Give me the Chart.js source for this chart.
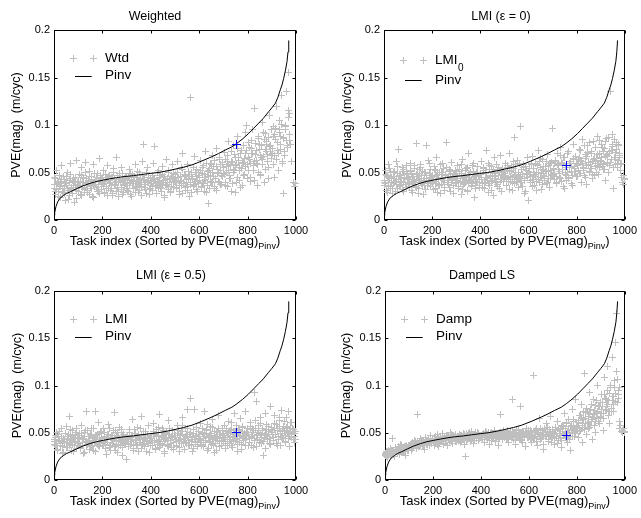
<!DOCTYPE html>
<html>
<head>
<meta charset="utf-8">
<script src="https://cdn.jsdelivr.net/npm/chart.js@4.4.1/dist/chart.umd.min.js"></script>
<style>
  html, body { margin: 0; padding: 0; background: #fff; }
  #wrap { position: relative; width: 641px; height: 518px; overflow: hidden; }
  canvas { position: absolute; }
</style>
</head>
<body>
<div id="wrap">
  <canvas id="c1" width="320" height="259" style="left:0;top:0"></canvas>
  <canvas id="c2" width="321" height="259" style="left:320px;top:0"></canvas>
  <canvas id="c3" width="320" height="259" style="left:0;top:259px"></canvas>
  <canvas id="c4" width="321" height="259" style="left:320px;top:259px"></canvas>
</div>
<script>
// task index (sorted by Pinv PVE): three interleaved samples of the tasks
const taskIdxA = [
  0,5,10,15,20,25,30,35,40,45,50,55,60,65,70,75,80,85,90,95,
  100,105,110,115,120,125,130,135,140,145,150,155,160,165,170,175,180,185,190,195,
  200,205,210,215,220,225,230,235,240,245,250,255,260,265,270,275,280,285,290,295,
  300,305,310,315,320,325,330,335,340,345,350,355,360,365,370,375,380,385,390,395,
  400,405,410,415,420,425,430,435,440,445,450,455,460,465,470,475,480,485,490,495,
  500,505,510,515,520,525,530,535,540,545,550,555,560,565,570,575,580,585,590,595,
  600,605,610,615,620,625,630,635,640,645,650,655,660,665,670,675,680,685,690,695,
  700,705,710,715,720,725,730,735,740,745,750,755,760,765,770,775,780,785,790,795,
  800,805,810,815,820,825,830,835,840,845,850,855,860,865,870,875,880,885,890,895,
  900,905,910,915,920,925,930,935,940,945,950,955,960,965,970,975,980,985,990,995
];
const taskIdxB = [
  2,7,12,17,22,27,32,37,42,47,52,57,62,67,72,77,82,87,92,97,
  102,107,112,117,122,127,132,137,142,147,152,157,162,167,172,177,182,187,192,197,
  202,207,212,217,222,227,232,237,242,247,252,257,262,267,272,277,282,287,292,297,
  302,307,312,317,322,327,332,337,342,347,352,357,362,367,372,377,382,387,392,397,
  402,407,412,417,422,427,432,437,442,447,452,457,462,467,472,477,482,487,492,497,
  502,507,512,517,522,527,532,537,542,547,552,557,562,567,572,577,582,587,592,597,
  602,607,612,617,622,627,632,637,642,647,652,657,662,667,672,677,682,687,692,697,
  702,707,712,717,722,727,732,737,742,747,752,757,762,767,772,777,782,787,792,797,
  802,807,812,817,822,827,832,837,842,847,852,857,862,867,872,877,882,887,892,897,
  902,907,912,917,922,927,932,937,942,947,952,957,962,967,972,977,982,987,992,997
];
const taskIdxC = [
  3,8,13,18,23,28,33,38,43,48,53,58,63,68,73,78,83,88,93,98,
  103,108,113,118,123,128,133,138,143,148,153,158,163,168,173,178,183,188,193,198,
  203,208,213,218,223,228,233,238,243,248,253,258,263,268,273,278,283,288,293,298,
  303,308,313,318,323,328,333,338,343,348,353,358,363,368,373,378,383,388,393,398,
  403,408,413,418,423,428,433,438,443,448,453,458,463,468,473,478,483,488,493,498,
  503,508,513,518,523,528,533,538,543,548,553,558,563,568,573,578,583,588,593,598,
  603,608,613,618,623,628,633,638,643,648,653,658,663,668,673,678,683,688,693,698,
  703,708,713,718,723,728,733,738,743,748,753,758,763,768,773,778,783,788,793,798,
  803,808,813,818,823,828,833,838,843,848,853,858,863,868,873,878,883,888,893,898,
  903,908,913,918,923,928,933,938,943,948,953,958,963,968,973,978,983,988,993,998
];

// PVE(mag) of the Weighted solution (m/cyc)
const wtdA = [
  .045,.030,.052,.038,.025,.041,.057,.033,.046,.028,.036,.050,.022,.042,.060,.031,.044,.018,.039,.063,
  .035,.048,.027,.055,.040,.032,.061,.044,.029,.051,.037,.046,.025,.058,.042,.034,.049,.030,.065,.043,
  .038,.052,.028,.045,.057,.033,.047,.040,.026,.054,.043,.036,.066,.030,.049,.041,.055,.027,.044,.038,
  .046,.031,.053,.039,.025,.048,.042,.058,.034,.045,.029,.050,.037,.062,.080,.043,.032,.055,.040,.027,
  .044,.035,.060,.077,.041,.028,.052,.038,.047,.033,.056,.024,.043,.064,.037,.050,.030,.046,.058,.039,
  .048,.034,.062,.042,.027,.055,.070,.038,.046,.031,.058,.044,.025,.129,.050,.036,.067,.041,.053,.030,
  .047,.063,.035,.055,.042,.072,.029,.051,.017,.060,.039,.068,.046,.033,.075,.053,.041,.064,.037,.058,
  .049,.071,.036,.062,.083,.044,.057,.030,.078,.052,.066,.040,.088,.055,.034,.073,.061,.047,.092,.100,
  .058,.082,.041,.070,.095,.052,.117,.063,.036,.086,.074,.048,.103,.067,.039,.091,.080,.055,.110,.072,
  .065,.098,.045,.085,.120,.073,.105,.088,.131,.060,.028,.095,.135,.078,.155,.112,.062,null,.040,.035
];
const wtdB = [
  .037,.044,.032,.041,.047,.035,.040,.029,.043,.038,.046,.033,.039,.048,.034,.042,.036,.045,.031,.040,
  .041,.036,.047,.039,.044,.033,.050,.038,.042,.046,.035,.043,.040,.049,.037,.045,.032,.041,.047,.039,
  .043,.038,.048,.035,.042,.046,.040,.033,.045,.050,.037,.041,.047,.039,.044,.034,.049,.042,.036,.046,
  .040,.045,.036,.049,.043,.038,.046,.034,.041,.051,.039,.044,.035,.047,.042,.037,.050,.040,.045,.033,
  .042,.047,.038,.044,.036,.050,.041,.045,.034,.048,.040,.046,.037,.043,.052,.039,.044,.035,.049,.041,
  .044,.039,.050,.036,.046,.041,.053,.038,.047,.043,.035,.051,.040,.048,.044,.055,.037,.046,.042,.050,
  .045,.052,.040,.057,.048,.043,.060,.046,.054,.041,.058,.050,.063,.044,.056,.049,.066,.052,.047,.061,
  .055,.064,.050,.068,.058,.047,.072,.061,.053,.069,.057,.075,.063,.052,.070,.060,.078,.065,.056,.073,
  .066,.076,.060,.084,.070,.062,.081,.073,.058,.088,.068,.078,.064,.092,.074,.083,.069,.087,.077,.095,
  .075,.088,.068,.096,.082,.070,.092,.079,.101,.086,.072,.098,.084,.108,.090,.080,null,null,null,.038
];
const wtdC = [
  .033,.027,.040,.030,.036,.024,.043,.029,.035,.021,.038,.031,.026,.044,.032,.028,.041,.034,.023,.037,
  .030,.039,.026,.034,.045,.029,.036,.031,.041,.027,.033,.038,.024,.035,.042,.030,.037,.028,.044,.032,
  .035,.029,.041,.033,.026,.038,.031,.045,.028,.036,.040,.030,.034,.025,.039,.032,.043,.029,.037,.033,
  .036,.030,.042,.027,.038,.033,.046,.029,.035,.040,.031,.037,.026,.043,.034,.039,.028,.041,.032,.036,
  .038,.031,.043,.035,.028,.040,.033,.047,.030,.037,.042,.026,.036,.044,.032,.039,.029,.045,.034,.041,
  .039,.033,.045,.030,.042,.036,.028,.048,.034,.040,.031,.046,.037,.029,.043,.035,.050,.032,.041,.038,
  .042,.034,.049,.038,.030,.045,.036,.052,.033,.047,.040,.056,.035,.044,.031,.050,.039,.058,.037,.046,
  .048,.040,.056,.035,.052,.044,.062,.038,.050,.029,.058,.045,.066,.042,.054,.036,.061,.048,.070,.044,
  .052,.064,.045,.075,.057,.042,.069,.060,.050,.080,.047,.066,.058,.085,.053,.072,.062,.044,.078,.068,
  .070,.058,.090,.064,.082,.052,.095,.074,.062,.087,.068,.100,.076,.115,.084,null,null,null,null,null
];

// PVE(mag) of LMI with epsilon = 0
const lmi0A = [
  .040,.052,.031,.046,.058,.036,.044,.028,.050,.039,.062,.033,.074,.047,.041,.055,.030,.048,.037,.057,
  .043,.035,.060,.049,.029,.054,.040,.081,.046,.033,.058,.038,.051,.027,.044,.078,.036,.063,.042,.053,
  .047,.032,.056,.041,.066,.037,.050,.028,.045,.059,.034,.048,.082,.039,.053,.030,.061,.044,.036,.052,
  .040,.057,.033,.049,.027,.064,.045,.038,.054,.031,.070,.043,.050,.035,.060,.024,.047,.041,.056,.036,
  .048,.062,.034,.052,.039,.073,.044,.029,.057,.041,.050,.026,.066,.046,.037,.055,.033,.068,.043,.051,
  .045,.060,.036,.052,.070,.041,.056,.031,.087,.048,.039,.063,.044,.098,.053,.035,.058,.028,.049,.066,
  .021,.054,.042,.067,.047,.036,.059,.050,.073,.040,.055,.032,.064,.046,.052,.038,.069,.057,.044,.061,
  .096,.048,.060,.039,.070,.053,.045,.076,.058,.035,.066,.050,.042,.072,.055,.062,.038,.080,.051,.067,
  .059,.046,.074,.063,.040,.085,.054,.069,.037,.078,.061,.050,.072,.044,.083,.065,.056,.088,.048,.070,
  .062,.080,.053,.075,.042,.086,.068,.057,.135,.073,.090,.033,.064,.082,.055,.078,.070,.045,.040,.047
];
const lmi0B = [
  .042,.038,.047,.035,.044,.050,.040,.033,.046,.041,.037,.049,.043,.036,.045,.051,.039,.044,.034,.048,
  .045,.040,.051,.037,.046,.042,.035,.048,.043,.053,.039,.047,.041,.036,.050,.044,.038,.049,.045,.041,
  .046,.041,.052,.038,.048,.043,.036,.050,.044,.054,.040,.047,.042,.037,.051,.045,.039,.049,.046,.042,
  .047,.042,.053,.039,.049,.044,.037,.052,.045,.055,.041,.048,.043,.038,.051,.046,.040,.050,.047,.043,
  .048,.043,.054,.040,.050,.045,.038,.053,.046,.056,.042,.049,.044,.039,.052,.047,.041,.051,.048,.044,
  .049,.044,.055,.041,.051,.046,.039,.054,.047,.058,.043,.050,.045,.040,.053,.048,.042,.056,.049,.045,
  .051,.046,.058,.043,.054,.048,.041,.057,.050,.062,.045,.053,.047,.042,.056,.051,.044,.060,.052,.048,
  .054,.049,.062,.046,.058,.051,.044,.061,.053,.066,.048,.057,.050,.045,.060,.055,.047,.064,.056,.051,
  .058,.052,.066,.049,.062,.055,.047,.065,.057,.071,.051,.061,.054,.048,.064,.059,.050,.069,.060,.055,
  .062,.056,.072,.053,.067,.059,.050,.070,.061,.077,.055,.066,.058,.074,.063,.068,.052,.060,null,.043
];
const lmi0C = [
  .036,.048,.029,.042,.054,.033,.045,.038,.051,.030,.043,.056,.035,.047,.040,.032,.053,.037,.049,.044,
  .038,.052,.031,.046,.041,.057,.034,.049,.028,.044,.055,.036,.042,.050,.032,.047,.039,.060,.035,.045,
  .040,.053,.033,.047,.029,.044,.058,.037,.050,.042,.031,.055,.039,.046,.034,.052,.043,.028,.048,.038,
  .044,.035,.051,.041,.058,.032,.046,.039,.054,.030,.048,.042,.036,.057,.045,.033,.050,.040,.047,.034,
  .045,.038,.055,.033,.049,.042,.060,.036,.047,.031,.053,.044,.039,.058,.035,.050,.043,.030,.054,.041,
  .047,.036,.057,.043,.032,.052,.045,.062,.038,.050,.041,.034,.059,.046,.039,.055,.044,.030,.052,.048,
  .050,.040,.060,.035,.054,.046,.031,.058,.043,.065,.049,.037,.056,.044,.062,.040,.052,.034,.059,.047,
  .053,.043,.063,.038,.057,.049,.068,.041,.060,.033,.055,.047,.070,.044,.059,.051,.036,.065,.054,.046,
  .057,.064,.049,.073,.060,.052,.078,.045,.067,.058,.082,.054,.070,.062,.047,.076,.065,.057,.084,.063,
  .066,.076,.058,.083,.069,.061,.087,.072,.064,.080,.055,.085,.071,.060,.079,.066,.058,null,.037,.044
];

// PVE(mag) of LMI with epsilon = 0.5
const lmiA = [
  .043,.036,.050,.031,.046,.039,.054,.028,.044,.041,.057,.034,.048,.067,.038,.052,.030,.045,.040,.055,
  .037,.049,.033,.058,.044,.029,.052,.073,.040,.046,.035,.055,.042,.031,.072,.047,.038,.061,.043,.050,
  .036,.054,.041,.027,.048,.059,.034,.045,.039,.052,.071,.031,.047,.042,.056,.037,.050,.026,.044,.040,
  .022,.046,.053,.038,.043,.064,.033,.049,.040,.056,.030,.045,.067,.039,.051,.035,.047,.042,.058,.029,
  .044,.037,.060,.048,.032,.053,.041,.069,.036,.046,.055,.028,.043,.050,.038,.063,.045,.034,.052,.040,
  .047,.035,.058,.042,.030,.051,.066,.039,.044,.054,.075,.037,.048,.086,.041,.033,.075,.046,.056,.038,
  .043,.060,.036,.049,.072,.040,.053,.031,.046,.057,.038,.064,.044,.029,.051,.042,.068,.035,.048,.055,
  .041,.058,.033,.047,.062,.039,.052,.036,.045,.070,.043,.054,.030,.049,.065,.038,.056,.044,.073,.047,
  .050,.037,.061,.045,.055,.034,.093,.083,.048,.058,.040,.066,.052,.026,.044,.070,.047,.057,.039,.078,
  .053,.042,.068,.048,.059,.036,.063,.051,.074,.045,.057,.040,.066,.050,.072,.046,.061,.054,.043,.049
];
const lmiB = [
  .041,.045,.037,.048,.042,.039,.046,.035,.043,.049,.040,.044,.036,.047,.042,.038,.045,.041,.050,.039,
  .044,.039,.047,.036,.043,.050,.041,.038,.046,.042,.048,.035,.044,.040,.047,.043,.037,.045,.041,.049,
  .042,.046,.038,.044,.040,.048,.036,.043,.047,.039,.045,.041,.050,.037,.044,.040,.046,.042,.038,.045,
  .043,.039,.047,.041,.045,.037,.049,.042,.038,.046,.044,.040,.048,.036,.043,.047,.041,.045,.039,.046,
  .044,.040,.048,.042,.046,.038,.050,.043,.039,.047,.045,.041,.049,.037,.044,.048,.042,.046,.040,.047,
  .045,.041,.049,.043,.047,.039,.051,.044,.040,.048,.046,.042,.050,.038,.045,.049,.043,.047,.041,.048,
  .046,.042,.050,.044,.048,.040,.052,.045,.041,.049,.047,.043,.051,.039,.046,.050,.044,.048,.042,.049,
  .047,.043,.051,.045,.049,.041,.053,.046,.042,.050,.048,.044,.052,.040,.047,.051,.045,.049,.043,.050,
  .048,.044,.053,.046,.050,.042,.055,.047,.043,.052,.049,.045,.054,.041,.048,.053,.046,.051,.044,.052,
  .050,.045,.055,.048,.052,.043,.057,.049,.045,.054,.051,.047,.056,.044,.050,.055,.048,.053,.046,.043
];
const lmiC = [
  .038,.047,.032,.042,.051,.036,.044,.029,.040,.049,.034,.046,.039,.053,.031,.043,.037,.048,.033,.045,
  .040,.034,.049,.043,.028,.046,.037,.052,.041,.032,.047,.036,.054,.044,.030,.048,.039,.035,.051,.042,
  .037,.050,.033,.045,.040,.055,.031,.047,.043,.035,.052,.038,.029,.046,.041,.053,.034,.048,.039,.044,
  .041,.035,.050,.038,.046,.031,.053,.043,.036,.048,.040,.055,.033,.045,.038,.051,.030,.047,.042,.036,
  .042,.036,.051,.033,.047,.040,.056,.034,.045,.038,.052,.030,.048,.042,.035,.054,.039,.046,.032,.049,
  .043,.037,.052,.034,.048,.041,.058,.032,.046,.039,.055,.036,.050,.043,.030,.053,.040,.047,.035,.051,
  .044,.038,.054,.035,.049,.042,.059,.033,.047,.040,.056,.037,.051,.045,.031,.055,.041,.048,.036,.052,
  .045,.039,.055,.036,.050,.043,.061,.034,.048,.041,.058,.038,.053,.046,.032,.057,.042,.049,.037,.054,
  .046,.040,.057,.037,.052,.044,.063,.035,.050,.042,.060,.039,.055,.047,.033,.059,.043,.051,.038,.056,
  .048,.042,.060,.039,.054,.046,.066,.037,.052,.044,.062,.041,.057,.049,.035,.061,.045,.053,.040,.051
];

// PVE(mag) of the Damped LS solution
const dampA = [
  .026,.029,.024,.031,.027,.033,.044,.028,.025,.032,.030,.035,.027,.038,.031,.029,.034,.026,.036,.032,
  .034,.038,.031,.040,.036,.042,.033,.069,.039,.035,.044,.037,.041,.032,.045,.038,.043,.036,.047,.040,
  .042,.037,.046,.040,.048,.035,.044,.041,.049,.038,.045,.043,.036,.047,.042,.050,.039,.046,.044,.041,
  .045,.042,.048,.040,.047,.044,.038,.025,.049,.043,.046,.041,.051,.045,.039,.048,.044,.050,.042,.047,
  .046,.043,.049,.040,.051,.045,.048,.038,.047,.050,.044,.052,.041,.049,.046,.036,.069,.048,.043,.051,
  .047,.044,.052,.040,.049,.046,.085,.043,.050,.038,.053,.045,.048,.078,.042,.051,.046,.035,.054,.049,
  .045,.052,.040,.048,.111,.044,.055,.037,.050,.065,.043,.047,.032,.053,.046,.060,.041,.049,.067,.044,
  .051,.038,.056,.046,.062,.042,.053,.034,.058,.048,.070,.044,.040,.064,.050,.031,.075,.055,.046,.085,
  .057,.045,.068,.052,.080,.040,.113,.060,.048,.073,.055,.093,.064,.043,.085,.070,.050,.100,.062,.078,
  .066,.090,.052,.108,.075,.085,.120,.060,.098,.072,.130,.088,.145,.176,.082,.095,.055,.051,.050,.054
];
const dampB = [
  .027,.025,.030,.028,.026,.031,.029,.027,.032,.030,.028,.033,.031,.029,.034,.032,.030,.035,.033,.031,
  .036,.034,.038,.035,.039,.037,.034,.040,.038,.036,.041,.039,.037,.042,.040,.038,.043,.041,.039,.044,
  .041,.043,.039,.044,.042,.040,.045,.043,.041,.046,.044,.042,.047,.045,.043,.041,.046,.044,.048,.045,
  .044,.046,.042,.047,.045,.043,.048,.046,.044,.049,.047,.045,.043,.048,.046,.050,.044,.047,.049,.045,
  .047,.045,.049,.043,.048,.046,.050,.044,.048,.047,.045,.051,.049,.046,.048,.044,.050,.047,.045,.049,
  .048,.046,.050,.044,.049,.047,.051,.045,.049,.048,.046,.052,.050,.043,.047,.049,.045,.051,.048,.046,
  .049,.047,.051,.045,.050,.048,.053,.046,.050,.049,.044,.052,.048,.055,.047,.050,.046,.053,.049,.045,
  .050,.048,.053,.046,.055,.049,.044,.057,.051,.047,.054,.060,.049,.052,.046,.058,.053,.062,.050,.056,
  .058,.063,.054,.068,.060,.072,.056,.065,.076,.061,.070,.058,.080,.066,.074,.062,.084,.071,.078,.067,
  .075,.082,.070,.090,.078,.095,.084,.072,.100,.088,.080,.105,.092,.115,.086,.098,.058,null,.052,.050
];
const dampC = [
  .028,.030,.026,.029,.032,.027,.031,.029,.034,.030,.028,.033,.031,.036,.032,.030,.035,.033,.031,.037,
  .035,.037,.033,.039,.036,.041,.038,.035,.040,.037,.042,.039,.036,.043,.040,.038,.044,.041,.039,.043,
  .040,.044,.042,.038,.045,.043,.041,.046,.039,.044,.042,.047,.043,.040,.045,.048,.042,.046,.044,.041,
  .046,.043,.047,.041,.045,.049,.044,.042,.047,.045,.050,.043,.046,.048,.042,.047,.045,.049,.044,.046,
  .045,.048,.043,.047,.050,.044,.046,.049,.042,.048,.046,.051,.045,.047,.043,.050,.046,.048,.052,.045,
  .046,.049,.043,.048,.051,.045,.047,.050,.042,.049,.046,.053,.044,.048,.040,.051,.047,.049,.045,.052,
  .047,.043,.050,.045,.048,.052,.041,.049,.046,.054,.044,.048,.038,.051,.047,.056,.043,.050,.040,.053,
  .049,.044,.052,.039,.055,.047,.051,.042,.058,.048,.045,.061,.050,.043,.057,.052,.046,.064,.049,.055,
  .054,.061,.051,.066,.058,.064,.053,.071,.060,.067,.056,.075,.062,.069,.058,.079,.065,.073,.060,.082,
  .070,.078,.065,.086,.074,.080,.068,.092,.076,.084,.072,.098,.083,.106,.090,.062,null,null,.055,.051
];

// sorted Pinv PVE(mag) curve
const pinvIdx = [0, 3, 8, 15, 25, 40, 52, 70, 94, 120, 149, 175, 204, 230, 259, 290, 328, 360, 397, 430,
  466, 500, 535, 570, 610, 653, 680, 708, 735, 756, 780, 804, 825, 846, 865, 887, 900, 915, 925, 935,
  942, 949, 956, 963, 967, 970];
const pinvVal = [0.005, 0.008, 0.014, 0.019, 0.023, 0.026, 0.028, 0.030, 0.033, 0.036, 0.0386, 0.0405, 0.042,
  0.0433, 0.0446, 0.0457, 0.0467, 0.0478, 0.049, 0.050, 0.0516, 0.0535, 0.0555, 0.058, 0.062, 0.0667, 0.070,
  0.0737, 0.077, 0.0807, 0.0855, 0.091, 0.0965, 0.102, 0.107, 0.114, 0.118, 0.123, 0.129, 0.137, 0.142,
  0.149, 0.157, 0.167, 0.177, 0.189];

// highlighted task (blue +)
const markedIdx = 756;
const markedVal = [0.079, 0.057, 0.050, 0.047];

const xTicks = [0, 200, 400, 600, 800, 1000];
const yTicks = [0, 0.05, 0.1, 0.15, 0.2];
const yTickLabels = ['0', '0.05', '0.1', '0.15', '0.2'];
const panelTitles = ['Weighted', 'LMI (\u03b5 = 0)', 'LMI (\u03b5 = 0.5)', 'Damped LS'];
const legendNames = [['Wtd', ''], ['LMI', '0'], ['LMI', ''], ['Damp', '']];

const FONT = '"Liberation Sans", Arial, Helvetica, sans-serif';
const GRAY = 'rgb(191,191,191)';

// crisp "+" marker sprites
function plusSprite(size, color, w) {
  const c = document.createElement('canvas');
  c.width = size; c.height = size;
  const g = c.getContext('2d');
  g.fillStyle = color;
  const m = Math.floor((size - w) / 2);
  g.fillRect(0, m, size, w);
  g.fillRect(m, 0, w, size);
  return c;
}
const grayPlus = plusSprite(7, GRAY, 1);
const bluePlus = plusSprite(9, '#0000ff', 1);

// box, inward ticks, titles, axis labels and legend
const decor = {
  id: 'decor',
  beforeDatasetsDraw(chart, args, o) {
    const { ctx, chartArea: a, scales: { x, y } } = chart;
    ctx.save();
    ctx.strokeStyle = '#000';
    ctx.lineWidth = 1;
    const L = Math.round(a.left) + 0.5, R = Math.round(a.right) - 0.5;
    const T = Math.round(a.top) + 0.5, B = Math.round(a.bottom) - 0.5;
    ctx.strokeRect(L, T, R - L, B - T);
    ctx.beginPath();
    xTicks.forEach(v => {
      const px = Math.round(x.getPixelForValue(v)) + 0.5;
      ctx.moveTo(px, B); ctx.lineTo(px, B - 3);
      ctx.moveTo(px, T); ctx.lineTo(px, T + 3);
    });
    yTicks.forEach(v => {
      const py = Math.round(y.getPixelForValue(v)) + 0.5;
      ctx.moveTo(L, py); ctx.lineTo(L + 3, py);
      ctx.moveTo(R, py); ctx.lineTo(R - 3, py);
    });
    ctx.stroke();
    ctx.restore();
    ctx.imageSmoothingEnabled = false;
  },
  afterDatasetsDraw(chart) {
    chart.ctx.imageSmoothingEnabled = true;
  },
  afterDraw(chart, args, o) {
    const { ctx, chartArea: a } = chart;
    const cx = (a.left + a.right) / 2;
    ctx.save();
    ctx.fillStyle = '#000';
    ctx.textBaseline = 'middle';

    // title
    ctx.font = `12.5px ${FONT}`;
    ctx.textAlign = 'center';
    ctx.fillText(o.title, o.titleX, 16.5);

    // y label
    ctx.save();
    ctx.translate(o.ylabelX, (a.top + a.bottom) / 2);
    ctx.rotate(-Math.PI / 2);
    ctx.font = `12.5px ${FONT}`;
    ctx.fillText('PVE(mag)  (m/cyc)', 0, 0);
    ctx.restore();

    // x label with subscript
    ctx.textAlign = 'left';
    ctx.textBaseline = 'alphabetic';
    const main = 'Task index (Sorted by PVE(mag)', sub = 'Pinv', tail = ')';
    ctx.font = `13px ${FONT}`;
    const wMain = ctx.measureText(main).width, wTail = ctx.measureText(tail).width;
    ctx.font = `9px ${FONT}`;
    const wSub = ctx.measureText(sub).width;
    const sx = cx - (wMain + wSub + wTail) / 2;
    const base = a.bottom + 25;
    ctx.font = `13px ${FONT}`;
    ctx.fillText(main, sx, base);
    ctx.font = `9px ${FONT}`;
    ctx.fillText(sub, sx + wMain, base + 4);
    ctx.font = `13px ${FONT}`;
    ctx.fillText(tail, sx + wMain + wSub, base);

    // legend
    const r1 = a.top + o.legendDy[0], r2 = a.top + o.legendDy[1];
    ctx.imageSmoothingEnabled = false;
    ctx.drawImage(grayPlus, Math.round(a.left + 19.3) - 3, Math.round(r1) - 3);
    ctx.drawImage(grayPlus, Math.round(a.left + 38.7) - 3, Math.round(r1) - 3);
    ctx.strokeStyle = '#000';
    ctx.lineWidth = 1;
    ctx.beginPath();
    ctx.moveTo(a.left + 21, Math.round(r2) + 0.5);
    ctx.lineTo(a.left + 37.7, Math.round(r2) + 0.5);
    ctx.stroke();
    ctx.textBaseline = 'middle';
    ctx.font = `13.5px ${FONT}`;
    ctx.fillText(o.legend[0], a.left + 51, r1);
    if (o.legend[1]) {
      const w = ctx.measureText(o.legend[0]).width;
      ctx.font = `10px ${FONT}`;
      ctx.fillText(o.legend[1], a.left + 51 + w + 0.5, r1 + 8);
      ctx.font = `13.5px ${FONT}`;
    }
    ctx.fillText('Pinv', a.left + 51, r2);
    ctx.restore();
  }
};

const panels = [
  { id: 'c1', a: wtdA,  b: wtdB,  c: wtdC,  k: 0, yAxisW: 54, padR: 24, padT: 30, xAxisH: 39, ylabelX: 17,   titleX: 155, legendDy: [28.3, 45.7] },
  { id: 'c2', a: lmi0A, b: lmi0B, c: lmi0C, k: 1, yAxisW: 64, padR: 15, padT: 30, xAxisH: 39, ylabelX: 27.5, titleX: 181, legendDy: [30, 50] },
  { id: 'c3', a: lmiA,  b: lmiB,  c: lmiC,  k: 2, yAxisW: 54, padR: 24, padT: 32, xAxisH: 38, ylabelX: 17.5, titleX: 171, legendDy: [28.3, 45.7] },
  { id: 'c4', a: dampA, b: dampB, c: dampC, k: 3, yAxisW: 65, padR: 15, padT: 32, xAxisH: 38, ylabelX: 27,   titleX: 162, legendDy: [28.3, 45.7] }
];

panels.forEach(p => {
  const cloud = taskIdxA.map((x, i) => ({ x, y: p.a[i] }))
    .concat(taskIdxB.map((x, i) => ({ x, y: p.b[i] })))
    .concat(taskIdxC.map((x, i) => ({ x, y: p.c[i] })));
  new Chart(document.getElementById(p.id), {
    type: 'scatter',
    data: {
      datasets: [
        {
          data: cloud,
          pointStyle: grayPlus, pointRadius: 3.5,
          borderColor: GRAY, backgroundColor: GRAY, order: 3, clip: false
        },
        {
          type: 'line',
          data: pinvIdx.map((x, i) => ({ x, y: pinvVal[i] })),
          borderColor: '#000', borderWidth: 1, pointRadius: 0, tension: 0, fill: false, order: 2
        },
        {
          data: [{ x: markedIdx, y: markedVal[p.k] }],
          pointStyle: bluePlus, pointRadius: 4.5,
          borderColor: '#0000ff', backgroundColor: '#0000ff', order: 1, clip: false
        }
      ]
    },
    options: {
      responsive: false,
      animation: false,
      events: [],
      layout: { padding: { left: 0, right: p.padR, top: p.padT, bottom: 0 } },
      plugins: {
        legend: { display: false },
        tooltip: { enabled: false },
        decor: { title: panelTitles[p.k], titleX: p.titleX, legend: legendNames[p.k], ylabelX: p.ylabelX, legendDy: p.legendDy }
      },
      scales: {
        x: {
          type: 'linear', min: 0, max: 1000,
          afterBuildTicks: s => { s.ticks = xTicks.map(v => ({ value: v })); },
          afterFit: s => { s.height = p.xAxisH; },
          grid: { display: false, drawTicks: false },
          border: { display: false },
          ticks: { color: '#000', font: { family: FONT, size: 11 }, padding: 4, maxRotation: 0,
            callback: v => String(v) }
        },
        y: {
          type: 'linear', min: 0, max: 0.2,
          afterBuildTicks: s => { s.ticks = yTicks.map(v => ({ value: v })); },
          afterFit: s => { s.width = p.yAxisW; },
          grid: { display: false, drawTicks: false },
          border: { display: false },
          ticks: { color: '#000', font: { family: FONT, size: 11 }, padding: 4,
            callback: (v, i) => yTickLabels[i] }
        }
      }
    },
    plugins: [decor]
  });
});
</script>
</body>
</html>
